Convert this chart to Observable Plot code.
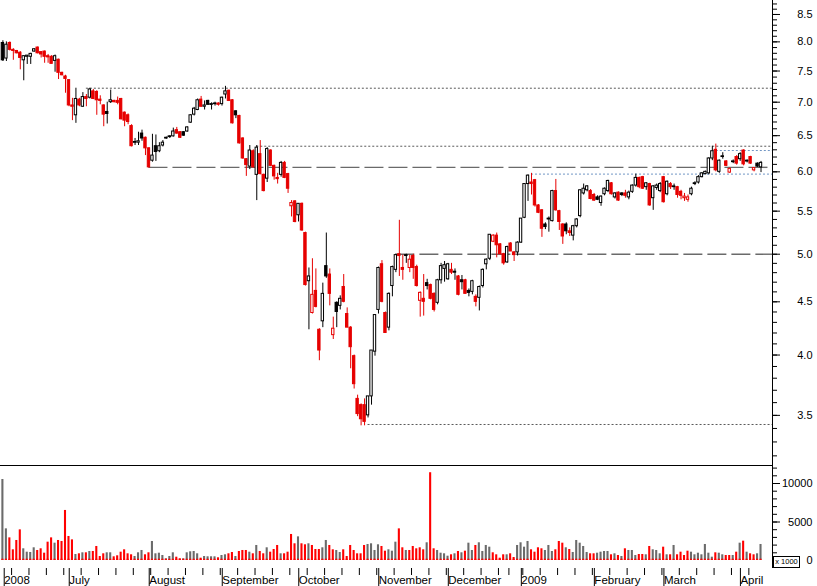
<!DOCTYPE html>
<html><head><meta charset="utf-8">
<script src="https://cdn.jsdelivr.net/npm/d3@7"></script>
<script src="https://cdn.jsdelivr.net/npm/@observablehq/plot@0.6"></script>
<style>
html,body{margin:0;padding:0;background:#fff;}
#wrap{position:relative;width:817px;height:586px;overflow:hidden;font-family:"Liberation Sans",Arial,sans-serif;}
#wrap svg{display:block;}
#unit{position:absolute;left:773px;top:556px;width:25px;height:10px;border:1px solid #000;font-size:7.5px;line-height:10px;text-align:center;background:#fff;color:#000;}
</style></head><body><div id="wrap"></div>
<script>
const open = [7.98,7.71,7.98,7.86,7.84,7.81,7.68,7.74,7.74,7.83,7.90,7.82,7.83,7.75,7.74,7.67,7.69,7.47,7.41,7.35,6.95,6.80,7.04,6.93,7.08,7.07,7.17,7.16,7.04,6.95,6.85,7.00,7.02,7.02,7.05,6.84,6.80,6.64,6.40,6.40,6.53,6.47,6.32,6.15,6.35,6.28,6.36,6.46,6.48,6.49,6.58,6.55,6.55,6.56,6.69,6.81,6.88,7.04,6.93,7.02,6.96,6.97,6.98,6.97,7.12,7.18,7.03,6.86,6.79,6.46,6.17,6.07,6.28,5.96,6.24,5.96,5.91,6.29,6.08,5.92,5.96,6.12,5.97,5.56,5.62,5.45,5.59,5.24,4.71,4.39,4.61,4.23,4.31,4.87,4.78,4.18,4.49,4.46,4.65,4.38,4.25,3.99,3.63,3.58,3.58,3.50,3.65,4.03,4.42,4.89,4.39,4.25,4.66,4.83,5.00,4.85,4.98,4.85,4.98,4.86,4.51,4.53,4.69,4.67,4.58,4.49,4.72,4.84,4.73,4.83,4.80,4.76,4.72,4.72,4.61,4.60,4.55,4.54,4.66,4.89,4.95,5.14,5.21,5.11,5.00,4.91,5.12,5.02,5.02,5.13,5.42,5.84,5.86,5.89,5.57,5.51,5.34,5.40,5.38,5.75,5.50,5.34,5.34,5.26,5.21,5.32,5.44,5.72,5.76,5.75,5.70,5.67,5.60,5.71,5.75,5.85,5.67,5.73,5.72,5.72,5.67,5.74,5.82,5.92,5.93,5.80,5.84,5.66,5.79,5.75,5.93,5.71,5.84,5.80,5.80,5.74,5.66,5.64,5.71,5.84,5.86,5.93,5.97,5.98,6.18,6.30,6.00,6.20,6.14,5.99,6.13,6.20,6.17,6.29,6.14,6.20,6.02,6.11,6.06];
const high = [8.02,8.00,8.00,7.88,7.85,7.83,7.76,7.76,7.80,7.88,7.91,7.83,7.84,7.78,7.76,7.77,7.70,7.48,7.43,7.36,7.06,7.22,7.06,7.15,7.12,7.22,7.20,7.18,7.10,6.96,7.00,7.19,7.03,7.08,7.06,6.85,6.82,6.66,6.46,6.55,6.58,6.48,6.33,6.52,6.51,6.40,6.43,6.48,6.50,6.61,6.62,6.56,6.56,6.63,6.81,6.92,7.05,7.09,7.02,7.03,6.99,7.00,6.99,7.08,7.25,7.19,7.04,6.87,6.80,6.47,6.18,6.36,6.30,6.36,6.43,5.97,6.33,6.30,6.09,5.98,6.14,6.14,5.98,5.63,5.63,5.59,5.60,5.25,4.85,4.95,4.84,4.24,4.69,5.24,4.84,4.35,4.50,4.56,4.78,4.44,4.26,4.00,3.66,3.59,3.63,3.65,4.04,4.37,4.86,4.93,4.40,4.59,4.87,5.00,5.39,4.99,5.00,4.99,5.00,4.88,4.60,4.78,4.73,4.68,4.59,4.73,4.90,4.92,4.90,4.90,4.84,4.77,4.77,4.73,4.63,4.72,4.57,4.66,4.84,4.95,5.22,5.22,5.24,5.12,5.01,5.09,5.13,5.03,5.14,5.41,5.84,5.96,5.98,5.90,5.58,5.52,5.36,5.43,5.76,5.90,5.51,5.35,5.36,5.30,5.33,5.41,5.77,5.84,5.82,5.77,5.72,5.69,5.69,5.79,5.89,5.86,5.73,5.74,5.73,5.76,5.75,5.83,5.97,5.93,5.94,5.86,5.85,5.82,5.84,5.86,5.94,5.88,5.86,5.84,5.81,5.76,5.72,5.70,5.80,5.87,5.95,5.99,6.01,6.19,6.35,6.38,6.16,6.26,6.15,6.05,6.16,6.22,6.26,6.30,6.16,6.21,6.05,6.12,6.14];
const low = [7.66,7.66,7.84,7.68,7.79,7.52,7.34,7.61,7.61,7.82,7.79,7.72,7.63,7.63,7.62,7.48,7.36,7.42,7.14,6.93,6.72,6.68,6.93,6.92,6.93,7.05,7.04,6.80,6.96,6.63,6.67,6.98,6.99,6.96,6.73,6.63,6.66,6.34,6.36,6.36,6.42,6.22,6.05,6.13,6.14,6.26,6.34,6.45,6.46,6.48,6.52,6.46,6.49,6.55,6.68,6.79,6.87,6.92,6.88,6.95,6.88,6.94,6.94,6.94,7.05,7.01,6.67,6.75,6.38,6.17,5.94,6.03,6.05,5.63,5.96,5.74,5.86,6.07,5.89,5.84,5.93,5.91,5.72,5.43,5.36,5.37,5.26,4.66,4.23,4.38,4.44,3.95,4.25,4.74,4.46,4.14,4.25,4.42,4.49,4.25,3.88,3.71,3.49,3.42,3.42,3.48,3.58,3.99,4.38,4.49,4.20,4.22,4.55,4.80,4.76,4.72,4.90,4.80,4.73,4.65,4.35,4.36,4.62,4.52,4.40,4.47,4.68,4.70,4.72,4.78,4.72,4.56,4.62,4.58,4.55,4.57,4.45,4.41,4.64,4.83,4.93,5.13,4.96,4.99,4.88,4.90,5.03,4.92,4.98,5.12,5.41,5.62,5.70,5.55,5.47,5.19,5.28,5.25,5.37,5.50,5.27,5.11,5.22,5.20,5.15,5.30,5.42,5.70,5.74,5.64,5.62,5.63,5.56,5.69,5.73,5.70,5.65,5.62,5.68,5.66,5.64,5.72,5.80,5.78,5.77,5.76,5.56,5.51,5.76,5.73,5.60,5.69,5.77,5.76,5.66,5.64,5.62,5.61,5.69,5.82,5.84,5.92,5.96,5.96,6.15,6.00,5.98,6.17,6.07,5.98,6.11,6.09,6.14,6.08,6.12,6.10,6.00,6.06,5.99];
const close = [7.68,7.95,7.86,7.84,7.80,7.72,7.75,7.76,7.79,7.87,7.80,7.78,7.74,7.73,7.62,7.75,7.47,7.43,7.37,6.95,6.93,7.05,6.95,7.08,7.05,7.20,7.05,7.03,7.02,6.81,6.82,7.03,7.00,6.99,6.74,6.72,6.70,6.35,6.41,6.42,6.46,6.32,6.06,6.22,6.27,6.35,6.40,6.47,6.49,6.56,6.53,6.47,6.50,6.62,6.80,6.90,7.03,6.93,6.95,6.96,6.97,6.98,6.96,7.07,7.17,7.02,6.68,6.80,6.39,6.18,6.09,6.29,6.06,6.33,5.97,5.75,6.31,6.08,5.94,5.91,6.12,5.92,5.78,5.60,5.37,5.59,5.27,4.67,4.76,4.57,4.45,4.04,4.58,4.76,4.58,4.24,4.40,4.53,4.50,4.25,4.07,3.75,3.51,3.47,3.45,3.65,4.04,4.37,4.85,4.50,4.20,4.58,4.86,4.99,4.98,4.83,4.99,4.94,4.85,4.66,4.59,4.50,4.66,4.53,4.42,4.72,4.87,4.88,4.89,4.80,4.81,4.57,4.70,4.58,4.59,4.71,4.50,4.65,4.83,4.94,5.22,5.21,5.10,5.00,4.90,5.08,5.03,4.99,5.13,5.41,5.84,5.95,5.84,5.57,5.48,5.29,5.31,5.41,5.75,5.51,5.37,5.20,5.26,5.24,5.32,5.40,5.76,5.78,5.81,5.65,5.63,5.64,5.68,5.78,5.88,5.71,5.72,5.63,5.70,5.69,5.73,5.82,5.92,5.80,5.78,5.85,5.57,5.81,5.82,5.84,5.61,5.87,5.80,5.81,5.70,5.69,5.68,5.67,5.78,5.85,5.93,5.98,6.00,6.18,6.28,6.02,6.15,6.21,6.08,6.04,6.14,6.11,6.24,6.10,6.15,6.11,6.05,6.07,6.12];
const volume = [10520,4110,2940,1390,2600,3980,1520,1080,1040,1650,1300,1520,950,2380,2940,2250,2600,2470,6500,3120,2680,780,870,1000,1000,1170,1170,1820,520,870,1000,1000,480,610,1080,1390,870,740,520,1000,1300,740,1000,2470,870,950,650,220,520,1000,430,220,220,1000,1130,1170,870,300,520,480,480,480,350,650,740,870,1040,520,1170,1300,1300,1080,870,1950,1170,870,1650,1080,1430,1950,870,870,1080,3380,2170,3070,2170,2040,2170,1950,1430,1430,1650,2600,1950,1390,1300,1040,1390,520,1950,1300,870,870,1950,2080,2170,1300,2040,1820,1210,1390,1210,2380,4110,1650,1300,1300,1820,1520,1650,1390,2300,11400,1520,1300,950,870,560,740,870,1170,1000,1210,2250,1300,1950,2300,1170,1950,1730,1000,740,300,740,740,870,390,1950,2300,1730,2470,1390,1080,1650,1520,1300,1950,1170,1390,2470,2250,1650,1430,1040,2600,2250,1820,1040,870,870,950,1080,1170,1170,740,870,650,520,1520,1300,1300,650,780,780,740,1820,1390,1300,870,1730,740,740,1950,740,1080,650,1210,1080,740,950,740,2080,950,430,1000,950,740,650,650,650,1080,2250,2510,1080,870,740,870,2080];

const monthTicks = [-0.2, 18.5, 41.5, 62.5, 84.5, 107.5, 127.5, 148.5, 169.5, 189.5, 211.5];
const monthLabels = ["2008", "July", "August", "September", "October", "November", "December", "2009", "February", "March", "April"];
const weekTicks = [2.5,7.5,12.5,17.5,22.5,27.5,32.5,37.5,42.5,47.5,52.5,57.5,62.5,67.5,72.5,77.5,82.5,87.5,92.5,97.5,102.5,107.5,112.5,117.5,122.5,127.5,132.5,137.5,142.5,145.5,149.5,154.5,159.5,164.5,169.5,174.5,179.5,184.5,189.5,194.5,199.5,204.5,209.5,214.5];
const priceTicks = [3.5, 4.0, 4.5, 5.0, 5.5, 6.0, 6.5, 7.0, 7.5, 8.0, 8.5];
const priceMinor = d3.range(32, 88).map(k => k / 10);
const volTicks = [0, 5000, 10000];
const volMinor = d3.range(1000, 12001, 1000);

const dottedLevels = [7.22, 6.35, 3.43];
const dottedFrom = [24, 73, 105];
const dashedLevels = [6.06, 5.0];
const dashedFrom = [42, 113];
const blueLevels = [6.29, 5.97];
const blueFrom = [204, 152];

const RED = "#e60000", VRED = "#ff0000", VGRAY = "#6b6b6b", LGRAY = "#5a5a5a", BLUE = "#7095c4";
const xDomain = [-0.69, 221.3];
const FONT = "Liberation Sans, Arial, sans-serif";

const rows = close.map((c, i) => ({i, o: open[i], h: high[i], l: low[i], c, v: volume[i],
  down: i > 0 && c < close[i - 1], hollow: c >= open[i]}));
const sel = (down, hollow) => rows.filter(d => d.down === down && d.hollow === hollow);
const flat = rows.filter(d => Math.abs(d.o - d.c) < 0.015);
const lv = (vals, from) => vals.map((v, k) => ({v, from: from[k]}));
const bx1 = d => d.i - 0.34, bx2 = d => d.i + 0.34;

const yMin = 3.1324, yMax = 8.767;
const price = Plot.plot({
  width: 817, height: 465, marginTop: 0, marginBottom: 0, marginLeft: 0, marginRight: 45,
  x: {type: "linear", domain: xDomain, axis: null},
  y: {type: "log", domain: [yMin, yMax], range: [465, 0], axis: null},
  style: {background: "white", color: "black", fontFamily: FONT, fontSize: "11px"},
  marks: [
    Plot.ruleY(lv(dottedLevels, dottedFrom), {y: "v", x1: "from", x2: xDomain[1], stroke: LGRAY, strokeDasharray: "2,2"}),
    Plot.ruleY(lv(dashedLevels, dashedFrom), {y: "v", x1: "from", x2: xDomain[1], stroke: "#6a6a6a", strokeWidth: 1.4, strokeDasharray: "19,5"}),
    Plot.ruleY(lv(blueLevels, blueFrom), {y: "v", x1: "from", x2: xDomain[1], stroke: BLUE, strokeDasharray: "2,2"}),
    Plot.ruleX(rows.filter(d => d.down), {x: "i", y1: "l", y2: "h", stroke: RED}),
    Plot.ruleX(rows.filter(d => !d.down), {x: "i", y1: "l", y2: "h", stroke: "black"}),
    Plot.rect(sel(true, false), {x1: bx1, x2: bx2, y1: "o", y2: "c", fill: RED, stroke: RED}),
    Plot.rect(sel(true, true), {x1: bx1, x2: bx2, y1: "o", y2: "c", fill: "white", stroke: RED}),
    Plot.rect(sel(false, false), {x1: bx1, x2: bx2, y1: "o", y2: "c", fill: "black", stroke: "black"}),
    Plot.rect(sel(false, true), {x1: bx1, x2: bx2, y1: "o", y2: "c", fill: "white", stroke: "black"}),
    Plot.ruleY(flat.filter(d => d.down), {y: "c", x1: d => d.i - 0.45, x2: d => d.i + 0.45, stroke: RED}),
    Plot.ruleY(flat.filter(d => !d.down), {y: "c", x1: d => d.i - 0.45, x2: d => d.i + 0.45, stroke: "black"}),
    Plot.ruleX([xDomain[1]], {stroke: "black"}),
    Plot.axisY({anchor: "right", ticks: priceMinor, tickSize: 4, tickFormat: () => "", label: null}),
    Plot.axisY({anchor: "right", ticks: priceTicks, tickSize: 7, tickPadding: 33, textAnchor: "end",
      tickFormat: d => d.toFixed(1), label: null, fontSize: 11})
  ]
});

const vMin = -1039, vMax = 12338;
const vol = Plot.plot({
  width: 817, height: 121, marginTop: 0, marginBottom: 18, marginLeft: 0, marginRight: 45,
  x: {type: "linear", domain: xDomain, axis: null},
  y: {type: "linear", domain: [vMin, vMax], range: [103, 0], axis: null},
  style: {background: "white", color: "black", fontFamily: FONT, fontSize: "11px"},
  marks: [
    Plot.rect(rows.filter(d => d.down), {x1: d => d.i - 0.3, x2: d => d.i + 0.3, y1: 0, y2: "v", fill: VRED}),
    Plot.rect(rows.filter(d => !d.down), {x1: d => d.i - 0.3, x2: d => d.i + 0.3, y1: 0, y2: "v", fill: VGRAY}),
    Plot.rect(rows, {x1: d => d.i - 0.3, x2: d => d.i + 0.3, y1: 0, y2: 170, fill: VRED}),
    Plot.ruleY([vMax], {x1: xDomain[0], x2: xDomain[1], stroke: "black"}),
    Plot.ruleX([xDomain[1]], {stroke: "black"}),
    Plot.axisY({anchor: "right", ticks: volMinor, tickSize: 4, tickFormat: () => "", label: null}),
    Plot.axisY({anchor: "right", ticks: volTicks, tickSize: 7, tickPadding: 33, textAnchor: "end",
      tickFormat: d => String(d), label: null, fontSize: 11}),
    Plot.axisX({ticks: weekTicks, tickSize: 7, tickFormat: () => "", label: null}),
    Plot.axisX({ticks: monthTicks, tickSize: 18, tickPadding: -10.5, textAnchor: "start", dx: 2,
      fontSize: 11.5, label: null, tickFormat: d => monthLabels[monthTicks.indexOf(d)]})
  ]
});

const wrap = document.getElementById("wrap");
wrap.appendChild(price);
wrap.appendChild(vol);
const unit = document.createElement("div");
unit.id = "unit";
unit.textContent = "x 1000";
wrap.appendChild(unit);
</script>
</body></html>
